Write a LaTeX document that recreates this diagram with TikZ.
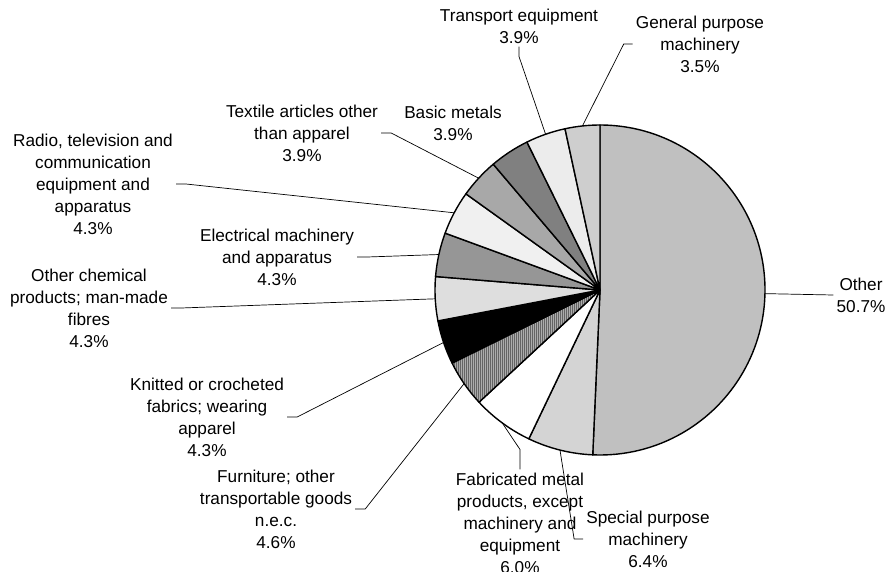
\documentclass[tikz,border=0pt]{standalone}
\usepackage{fontspec}
\setmainfont{Liberation Sans}
\usepackage{tikz}
\usetikzlibrary{patterns.meta}
\usepackage{xcolor}
\definecolor{cOther}{RGB}{192,192,192}
\definecolor{cSpecial}{RGB}{212,212,212}
\definecolor{cFabric}{RGB}{255,255,255}
\definecolor{cFurn}{RGB}{172,172,172}
\definecolor{cFurnLine}{RGB}{100,100,100}
\definecolor{cKnit}{RGB}{0,0,0}
\definecolor{cChem}{RGB}{222,222,222}
\definecolor{cElec}{RGB}{150,150,150}
\definecolor{cRadio}{RGB}{240,240,240}
\definecolor{cTextile}{RGB}{168,168,168}
\definecolor{cBasic}{RGB}{128,128,128}
\definecolor{cTrans}{RGB}{236,236,236}
\definecolor{cGeneral}{RGB}{206,206,206}
\tikzset{
  slice/.style={draw=black,line width=1.4pt,line join=round},
  lbl/.style={align=center,inner sep=3pt,
              font=\fontsize{17.2}{22}\selectfont},
  leader/.style={draw=black,line width=0.7pt}
}

\begin{document}
\begin{tikzpicture}[x=1pt,y=1pt]
  \useasboundingbox (0,0) rectangle (889,-571);

  % Pie slices, clockwise from the top
  \begin{scope}[shift={(600,-290)}]
    \draw[slice,fill=cOther] (0,0) -- (90:165)
        arc[start angle=90,end angle=-92.52,radius=165] -- cycle;
    \draw[slice,fill=cSpecial] (0,0) -- (-92.52:165)
        arc[start angle=-92.52,end angle=-115.56,radius=165] -- cycle;
    \draw[slice,fill=cFabric] (0,0) -- (-115.56:165)
        arc[start angle=-115.56,end angle=-137.16,radius=165] -- cycle;
    \draw[slice,preaction={fill=cFurn},
          pattern={Lines[angle=90,distance=2pt,line width=0.9pt]},
          pattern color=cFurnLine] (0,0) -- (-137.16:165)
        arc[start angle=-137.16,end angle=-153.72,radius=165] -- cycle;
    \draw[slice,fill=cKnit] (0,0) -- (-153.72:165)
        arc[start angle=-153.72,end angle=-169.2,radius=165] -- cycle;
    \draw[slice,fill=cChem] (0,0) -- (-169.2:165)
        arc[start angle=-169.2,end angle=-184.68,radius=165] -- cycle;
    \draw[slice,fill=cElec] (0,0) -- (-184.68:165)
        arc[start angle=-184.68,end angle=-200.16,radius=165] -- cycle;
    \draw[slice,fill=cRadio] (0,0) -- (-200.16:165)
        arc[start angle=-200.16,end angle=-215.64,radius=165] -- cycle;
    \draw[slice,fill=cTextile] (0,0) -- (-215.64:165)
        arc[start angle=-215.64,end angle=-229.68,radius=165] -- cycle;
    \draw[slice,fill=cBasic] (0,0) -- (-229.68:165)
        arc[start angle=-229.68,end angle=-243.72,radius=165] -- cycle;
    \draw[slice,fill=cTrans] (0,0) -- (-243.72:165)
        arc[start angle=-243.72,end angle=-257.76,radius=165] -- cycle;
    \draw[slice,fill=cGeneral] (0,0) -- (-257.76:165)
        arc[start angle=-257.76,end angle=-270,radius=165] -- cycle;

    % Rim points where the leaders start
    \coordinate (pother) at (-1.26:165);
    \coordinate (pspecial) at (-104.04:165);
    \coordinate (pfabric) at (-126.36:165);
    \coordinate (pfurn) at (-145.44:165);
    \coordinate (pknit) at (-161.46:165);
    \coordinate (pchem) at (-176.94:165);
    \coordinate (pelec) at (-192.42:165);
    \coordinate (pradio) at (-207.9:165);
    \coordinate (ptextile) at (-222.66:165);
    \coordinate (ptrans) at (-250.74:165);
    \coordinate (pgeneral) at (-263.88:165);
  \end{scope}

  % Labels
  \node[lbl] (lblother) at (861,-295) {Other\\50.7\%};
  \node[lbl] (lblspecial) at (648,-539) {Special purpose\\machinery\\6.4\%};
  \node[lbl] (lblfabric) at (520,-523)
      {Fabricated metal\\products, except\\machinery and\\equipment\\6.0\%};
  \node[lbl] (lblfurn) at (276,-509)
      {Furniture; other\\transportable goods\\n.e.c.\\4.6\%};
  \node[lbl] (lblknit) at (207,-417)
      {Knitted or crocheted\\fabrics; wearing\\apparel\\4.3\%};
  \node[lbl] (lblchem) at (89,-308)
      {Other chemical\\products; man-made\\fibres\\4.3\%};
  \node[lbl] (lblelec) at (277,-257) {Electrical machinery\\and apparatus\\4.3\%};
  \node[lbl] (lblradio) at (93,-184)
      {Radio, television and\\communication\\equipment and\\apparatus\\4.3\%};
  \node[lbl] (lbltextile) at (302,-133) {Textile articles other\\than apparel\\3.9\%};
  \node[lbl] (lblbasic) at (453,-123) {Basic metals\\3.9\%};
  \node[lbl] (lbltrans) at (519,-26) {Transport equipment\\3.9\%};
  \node[lbl] (lblgeneral) at (700,-44) {General purpose\\machinery\\3.5\%};

  % Leaders
  \draw[leader] (lblother.west) -- (pother);
  \draw[leader] (lblspecial.west) -- ++(-9,0) -- (pspecial);
  \draw[leader] (lblfabric.north) -- ++(0,20) -- (pfabric);
  \draw[leader] (lblfurn.east) -- ++(10,0) -- (pfurn);
  \draw[leader] (lblknit.east) -- ++(10,0) -- (pknit);
  \draw[leader] (lblchem.east) -- ++(10,0) -- (pchem);
  \draw[leader] (lblelec.east) -- ++(10,0) -- (pelec);
  \draw[leader] (lblradio.east) -- ++(10,0) -- (pradio);
  \draw[leader] (lbltextile.east) -- ++(10,0) -- (ptextile);
  \draw[leader] (lbltrans.south) -- ++(0,-10) -- (ptrans);
  \draw[leader] (lblgeneral.west) -- ++(-9,0) -- (pgeneral);

\end{tikzpicture}
\end{document}
